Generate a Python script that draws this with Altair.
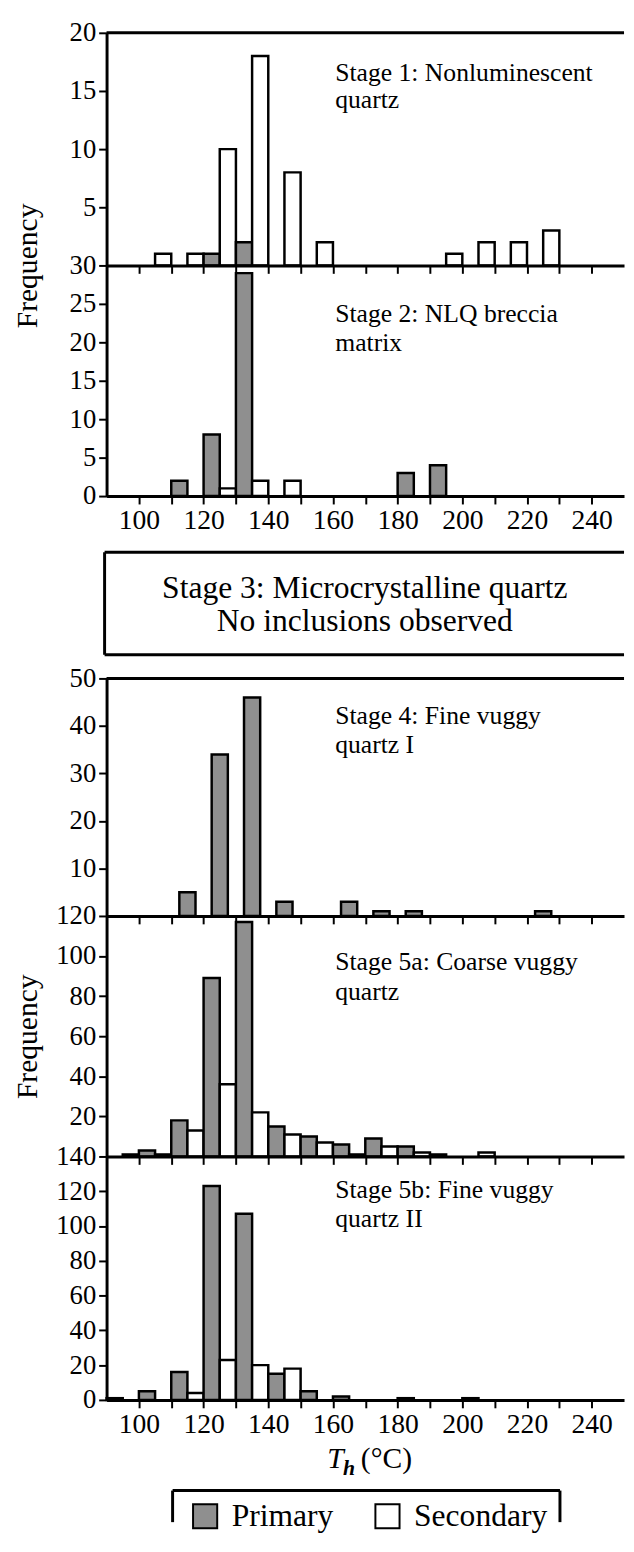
import altair as alt
import pandas as pd

# ---------------- data ----------------
bins = [90, 100, 110, 120, 130, 140, 150, 160, 170, 180, 190, 200, 210, 220, 230, 240]
series_names = ["Primary", "Secondary"]

s1_primary = [0, 0, 0, 1, 2, 0, 0, 0, 0, 0, 0, 0, 0, 0, 0, 0]
s1_secondary = [0, 1, 1, 10, 18, 8, 2, 0, 0, 0, 1, 2, 2, 3, 0, 0]

s2_primary = [0, 0, 2, 8, 29, 0, 0, 0, 0, 3, 4, 0, 0, 0, 0, 0]
s2_secondary = [0, 0, 0, 1, 2, 2, 0, 0, 0, 0, 0, 0, 0, 0, 0, 0]

s4_primary = [0, 0, 5, 34, 46, 3, 0, 3, 1, 1, 0, 0, 0, 1, 0, 0]
s4_secondary = [0, 0, 0, 0, 0, 0, 0, 0, 0, 0, 0, 0, 0, 0, 0, 0]

s5a_primary = [0, 3, 18, 89, 117, 15, 10, 6, 9, 5, 1, 0, 0, 0, 0, 0]
s5a_secondary = [1, 1, 13, 36, 22, 11, 7, 1, 5, 2, 0, 2, 0, 0, 0, 0]

s5b_primary = [1, 5, 16, 123, 107, 15, 5, 2, 0, 1, 0, 1, 0, 0, 0, 0]
s5b_secondary = [0, 0, 4, 23, 20, 18, 0, 0, 0, 0, 0, 0, 0, 0, 0, 0]

x_ticks = [100, 110, 120, 130, 140, 150, 160, 170, 180, 190, 200, 210, 220, 230, 240]
x_domain = [90, 250]

s1_yticks = [5, 10, 15, 20]
s2_yticks = [0, 5, 10, 15, 20, 25, 30]
s4_yticks = [10, 20, 30, 40, 50]
s5a_yticks = [20, 40, 60, 80, 100, 120]
s5b_yticks = [0, 20, 40, 60, 80, 100, 120, 140]

s1_text = ["Stage 1: Nonluminescent", "quartz"]
s2_text = ["Stage 2: NLQ breccia", "matrix"]
s3_text = ["Stage 3: Microcrystalline quartz", "No inclusions observed"]
s4_text = ["Stage 4: Fine vuggy", "quartz I"]
s5a_text = ["Stage 5a: Coarse vuggy", "quartz"]
s5b_text = ["Stage 5b: Fine vuggy", "quartz II"]
y_title = "Frequency"

# ---------------- style ----------------
FONT = "Liberation Serif"
W = 525
PRIMARY_FILL = "#8f8f8f"
fill_scale = alt.Scale(domain=series_names, range=[PRIMARY_FILL, "#ffffff"])
one = pd.DataFrame({"a": [0]})


def frame(primary, secondary):
    rows = []
    for b, p, s in zip(bins, primary, secondary):
        rows.append({"bin": b, "series": "Primary", "count": p})
        rows.append({"bin": b, "series": "Secondary", "count": s})
    return pd.DataFrame(rows)


def x_axis(show_labels):
    return alt.Axis(values=x_ticks, labels=show_labels,
                    labelExpr="datum.value % 20 == 0 ? datum.label : ''",
                    tickSize=8, tickWidth=2, tickColor="black",
                    domainWidth=3, domainColor="black", grid=False, title=None,
                    labelFont=FONT, labelFontSize=28, labelColor="black",
                    labelPadding=3, labelFlush=False, labelOverlap=False, zindex=1)


def y_axis(values, title=None, title_y=None):
    kw = dict(values=values, tickSize=8, tickWidth=2, tickColor="black",
              domainWidth=3, domainColor="black", grid=False,
              labelFont=FONT, labelFontSize=27, labelColor="black",
              labelPadding=3, labelFlush=False, labelOverlap=False, zindex=1)
    if title:
        kw.update(title=title, titleFont=FONT, titleFontSize=30,
                  titleFontWeight="normal", titleColor="black",
                  titleAngle=270, titleBaseline="middle", titleAlign="center",
                  titleX=-80)
        if title_y is not None:
            kw.update(titleY=title_y)
    else:
        kw.update(title=None)
    return alt.Axis(**kw)


def text_layer(txt, x, y, size, align="left"):
    return alt.Chart(pd.DataFrame({"t": [txt]})).mark_text(
        align=align, baseline="middle", font=FONT, fontSize=size, color="black"
    ).encode(text="t:N", x=alt.value(x), y=alt.value(y))


def panel(primary, secondary, ymax, yticks, height, lines, line_ys,
          show_xlabels=False, top_line=False, prim_off=0, title=None, title_y=None):
    df = frame(primary, secondary)
    base = alt.Chart(df).transform_filter("datum.count > 0").transform_calculate(
        x0=f"datum.bin + (datum.series == 'Primary' ? {prim_off} : 5)"
    ).transform_calculate(x1="datum.x0 + 5")
    bars = base.mark_bar(stroke="black", strokeWidth=2.5).encode(
        x=alt.X("x0:Q", scale=alt.Scale(domain=x_domain, nice=False, zero=False),
                axis=x_axis(show_xlabels)),
        x2="x1:Q",
        y=alt.Y("count:Q", scale=alt.Scale(domain=[0, ymax], nice=False),
                axis=y_axis(yticks, title, title_y)),
        y2=alt.datum(0),
        fill=alt.Fill("series:N", scale=fill_scale, legend=None),
    )
    layers = [bars]
    for txt, yy in zip(lines, line_ys):
        layers.append(text_layer(txt, 232, yy, 26))
    if top_line:
        layers.append(alt.Chart(one).mark_rule(color="black", strokeWidth=3).encode(
            x=alt.value(0), x2=alt.value(W), y=alt.value(0)))
    return alt.layer(*layers).properties(width=W, height=height)


s1 = panel(s1_primary, s1_secondary, 20, s1_yticks, 236, s1_text, [41, 68],
           top_line=True, title=y_title, title_y=236)
s2 = panel(s2_primary, s2_secondary, 30, s2_yticks, 234, s2_text, [49, 79],
           show_xlabels=True)

rule = alt.Chart(one).mark_rule(color="black", strokeWidth=3)
box = alt.layer(
    rule.encode(x=alt.value(-2), x2=alt.value(W), y=alt.value(57)),
    rule.encode(x=alt.value(-2), x2=alt.value(W), y=alt.value(161)),
    rule.encode(x=alt.value(-2), y=alt.value(57), y2=alt.value(161)),
    text_layer(s3_text[0], 262, 93, 32, "center"),
    text_layer(s3_text[1], 262, 127, 32, "center"),
).properties(width=W, height=185)

s4 = panel(s4_primary, s4_secondary, 50, s4_yticks, 241, s4_text, [38, 68],
           top_line=True, prim_off=2.5)
s5a = panel(s5a_primary, s5a_secondary, 120, s5a_yticks, 244, s5a_text, [47, 77],
            title=y_title)
s5b = panel(s5b_primary, s5b_secondary, 140, s5b_yticks, 247, s5b_text, [34, 64],
            show_xlabels=True)

# bottom: axis title and legend
leg_df = pd.DataFrame({"series": series_names})
leg_x = alt.X("series:N", scale=alt.Scale(type="point", domain=series_names,
                                          range=[100, 285], padding=0), axis=None)
swatch = alt.Chart(leg_df).mark_square(size=600, stroke="black", strokeWidth=2,
                                       opacity=1).encode(
    x=leg_x, y=alt.value(118),
    fill=alt.Fill("series:N", scale=fill_scale, legend=None))
leg_text = alt.Chart(leg_df).mark_text(align="left", baseline="middle", dx=27,
                                       font=FONT, fontSize=32, color="black").encode(
    x=leg_x, y=alt.value(118), text="series:N")

t_main = alt.Chart(pd.DataFrame({"t": ["T"]})).mark_text(
    align="left", baseline="middle", font=FONT, fontSize=30, fontStyle="italic",
    color="black").encode(text="t:N", x=alt.value(224), y=alt.value(60))
t_sub = alt.Chart(pd.DataFrame({"t": ["h"]})).mark_text(
    align="left", baseline="middle", font=FONT, fontSize=22, fontStyle="italic",
    fontWeight="bold", color="black").encode(text="t:N", x=alt.value(240), y=alt.value(69))
t_unit = alt.Chart(pd.DataFrame({"t": ["(\u00b0C)"]})).mark_text(
    align="left", baseline="middle", font=FONT, fontSize=30,
    color="black").encode(text="t:N", x=alt.value(258), y=alt.value(60))

bottom = alt.layer(
    rule.encode(x=alt.value(67), x2=alt.value(460), y=alt.value(92)),
    rule.encode(x=alt.value(67), y=alt.value(92), y2=alt.value(124)),
    rule.encode(x=alt.value(460), y=alt.value(92), y2=alt.value(124)),
    swatch, leg_text, t_main, t_sub, t_unit,
).properties(width=W, height=125)

chart = alt.vconcat(s1, s2, box, s4, s5a, s5b, bottom, spacing=0, bounds="flush").properties(
    padding={"left": 5, "top": 0, "right": 0, "bottom": 0}
).configure_view(stroke=None)

chart.save("out.html", embed_options={"renderer": "svg", "actions": False})
